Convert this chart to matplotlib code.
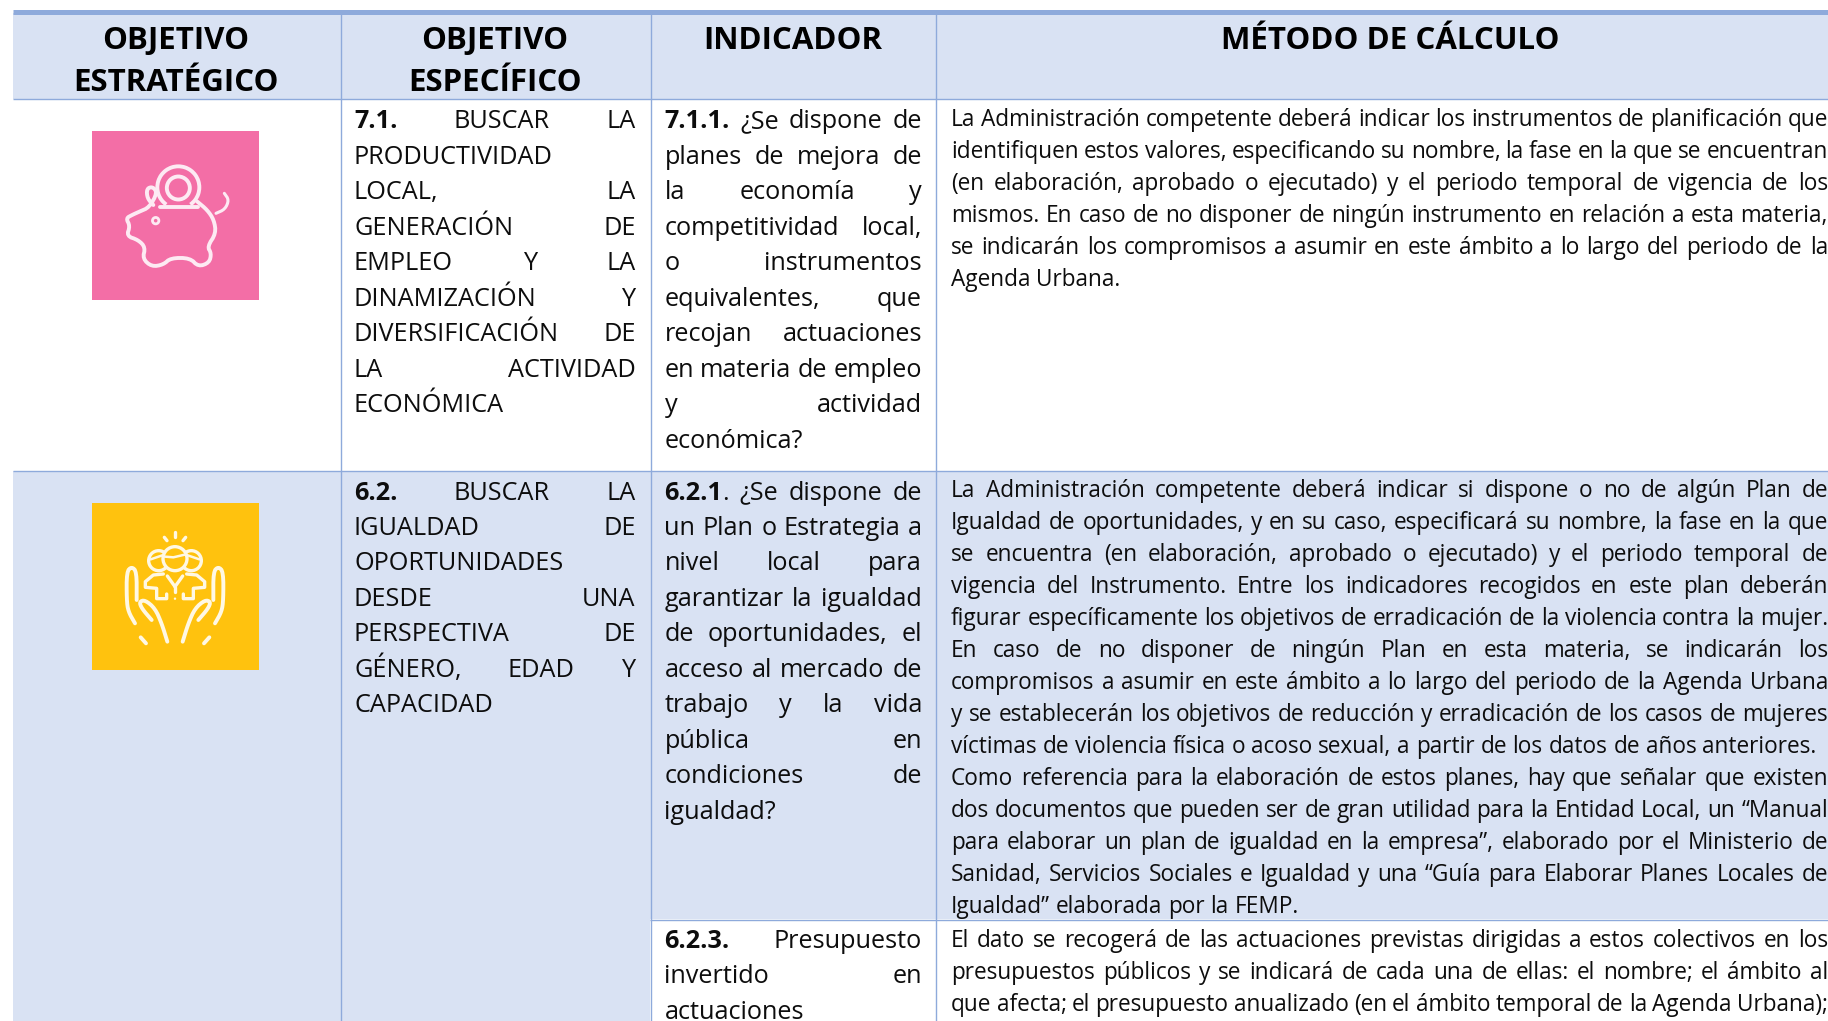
import matplotlib
matplotlib.use('Agg')
import matplotlib.pyplot as plt
from matplotlib.patches import Rectangle, Circle, Arc
import numpy as np

FONT = 'Open Sans'
SIZE_MID = 18.2
SIZE_WIDE = 16.3
SIZE_HEAD = 22.5

head_lines = [
    (176, ["OBJETIVO", "ESTRATÉGICO"]),
    (495, ["OBJETIVO", "ESPECÍFICO"]),
    (793, ["INDICADOR"]),
    (1390, ["MÉTODO DE CÁLCULO"]),
]

obj_71 = ["*7.1. BUSCAR LA", "PRODUCTIVIDAD", "LOCAL, LA", "GENERACIÓN DE", "EMPLEO Y LA",
          "DINAMIZACIÓN Y", "DIVERSIFICACIÓN DE", "LA ACTIVIDAD", "ECONÓMICA"]
obj_62 = ["*6.2. BUSCAR LA", "IGUALDAD DE", "OPORTUNIDADES", "DESDE UNA", "PERSPECTIVA DE",
          "GÉNERO, EDAD Y", "CAPACIDAD"]
obj_71_just = [1, 0, 1, 1, 1, 1, 1, 1, 0]
obj_62_just = [1, 1, 0, 1, 1, 1, 0]

ind_711 = ["*7.1.1. ¿Se dispone de", "planes de mejora de", "la economía y", "competitividad local,",
           "o instrumentos", "equivalentes, que", "recojan actuaciones", "en materia de empleo",
           "y actividad", "económica?"]
ind_621 = ["*6.2.1|. ¿Se dispone de", "un Plan o Estrategia a", "nivel local para",
           "garantizar la igualdad", "de oportunidades, el", "acceso al mercado de",
           "trabajo y la vida", "pública en", "condiciones de", "igualdad?"]
ind_623 = ["*6.2.3. Presupuesto", "invertido en", "actuaciones"]

met_711 = ["La Administración competente deberá indicar los instrumentos de planificación que",
           "identifiquen estos valores, especificando su nombre, la fase en la que se encuentran",
           "(en elaboración, aprobado o ejecutado) y el periodo temporal de vigencia de los",
           "mismos. En caso de no disponer de ningún instrumento en relación a esta materia,",
           "se indicarán los compromisos a asumir en este ámbito a lo largo del periodo de la",
           "Agenda Urbana."]
met_621 = ["La Administración competente deberá indicar si dispone o no de algún Plan de",
           "Igualdad de oportunidades, y en su caso, especificará su nombre, la fase en la que",
           "se encuentra (en elaboración, aprobado o ejecutado) y el periodo temporal de",
           "vigencia del Instrumento. Entre los indicadores recogidos en este plan deberán",
           "figurar específicamente los objetivos de erradicación de la violencia contra la mujer.",
           "En caso de no disponer de ningún Plan en esta materia, se indicarán los",
           "compromisos a asumir en este ámbito a lo largo del periodo de la Agenda Urbana",
           "y se establecerán los objetivos de reducción y erradicación de los casos de mujeres",
           "víctimas de violencia física o acoso sexual, a partir de los datos de años anteriores.",
           "Como referencia para la elaboración de estos planes, hay que señalar que existen",
           "dos documentos que pueden ser de gran utilidad para la Entidad Local, un “Manual",
           "para elaborar un plan de igualdad en la empresa”, elaborado por el Ministerio de",
           "Sanidad, Servicios Sociales e Igualdad y una “Guía para Elaborar Planes Locales de",
           "Igualdad” elaborada por la FEMP."]
met_621_just = [1, 1, 1, 1, 1, 1, 1, 1, 0, 1, 1, 1, 1, 0]
met_623 = ["El dato se recogerá de las actuaciones previstas dirigidas a estos colectivos en los",
           "presupuestos públicos y se indicará de cada una de ellas: el nombre; el ámbito al",
           "que afecta; el presupuesto anualizado (en el ámbito temporal de la Agenda Urbana);"]


fig = plt.figure(figsize=(18.28, 10.21), dpi=100)
ax = fig.add_axes([0, 0, 1, 1])
ax.set_xlim(0, 1828)
ax.set_ylim(1021, 0)
ax.axis('off')
rend = fig.canvas.get_renderer()

BLUE = '#d9e2f3'
LINE = '#8eaadb'
INK = '#0d0d0d'


def put(x, y, s, size, bold=False):
    t = ax.text(x, y, s, fontsize=size, family=FONT, fontweight='bold' if bold else 'normal',
                color=INK, va='baseline', ha='left')
    return t, t.get_window_extent(rend).width


# every word is made of parts, a part starting with * is bold
def word_width(word, size):
    w = 0
    for part in word.split('|'):
        t, tw = put(0, 0, part.lstrip('*'), size, part.startswith('*'))
        t.remove()
        w += tw
    return w


def draw_line(line, x0, x1, y, size, justify):
    words = line.split(' ')
    widths = [word_width(w, size) for w in words]
    t, space = put(0, 0, 'n n', size)
    t.remove()
    t, nn = put(0, 0, 'nn', size)
    t.remove()
    space = space - nn
    if justify and len(words) > 1:
        space = (x1 - x0 - sum(widths)) / (len(words) - 1)
    x = x0
    for w, width in zip(words, widths):
        px = x
        for part in w.split('|'):
            t, tw = put(px, y, part.lstrip('*'), size, part.startswith('*'))
            px += tw
        x += width + space


def draw_block(lines, x0, x1, y0, step, size, just=None, last_free=True):
    for i, line in enumerate(lines):
        if just is not None:
            j = just[i]
        else:
            j = not (last_free and i == len(lines) - 1)
        draw_line(line, x0, x1, y0 + i * step, size, j)


# fills
ax.add_patch(Rectangle((13, 13), 1815, 86, fc=BLUE, ec='none'))
ax.add_patch(Rectangle((13, 471), 637, 550, fc=BLUE, ec='none'))
ax.add_patch(Rectangle((650, 471), 286, 448, fc=BLUE, ec='none'))
ax.add_patch(Rectangle((936, 471), 892, 448, fc=BLUE, ec='none'))

# rules
ax.plot([13, 1828], [12, 12], color=LINE, lw=3.6, solid_capstyle='butt')
for y, x0, x1 in [(99.5, 13, 1828), (471, 13, 1828), (919.5, 650, 1828)]:
    ax.plot([x0, x1], [y, y], color=LINE, lw=1.0, solid_capstyle='butt')
for x, y0, y1 in [(340.5, 13, 1021), (650.5, 13, 1021), (936, 13, 1021)]:
    ax.plot([x, x], [y0, y1], color=LINE, lw=1.0, solid_capstyle='butt')

# header
for cx, lines in head_lines:
    for i, s in enumerate(lines):
        ax.text(cx, 49 + i * 42, s, fontsize=SIZE_HEAD, family=FONT, fontweight='bold',
                color='black', ha='center', va='baseline')

# columns
draw_block(obj_71, 354, 635.5, 128.5, 35.45, SIZE_MID, obj_71_just)
draw_block(obj_62, 354, 635.5, 499.5, 35.45, SIZE_MID, obj_62_just)
draw_block(ind_711, 664.5, 922, 128.5, 35.45, SIZE_MID)
draw_block(ind_621, 664.5, 922, 499.5, 35.45, SIZE_MID)
draw_block(ind_623, 664.5, 922, 948, 35.45, SIZE_MID, [1, 1, 0])
draw_block(met_711, 951, 1828, 126, 32, SIZE_WIDE)
draw_block(met_621, 951, 1828, 497, 32, SIZE_WIDE, met_621_just)
draw_block(met_623, 951, 1828, 947, 32, SIZE_WIDE, last_free=False)


# icons are sketched in their own crop units, 3 units to a pixel
def chaikin(pts, n=2):
    pts = np.array(pts, float)
    for _ in range(n):
        a = pts[:-1] * 0.75 + pts[1:] * 0.25
        b = pts[:-1] * 0.25 + pts[1:] * 0.75
        mid = np.empty((len(a) * 2, 2))
        mid[0::2] = a
        mid[1::2] = b
        pts = np.vstack([pts[0], mid, pts[-1]])
    return pts


def icon_line(pts, ox, oy, col, lw=2.6, smooth=True, mirror=False):
    p = chaikin(pts) if smooth else np.array(pts, float)
    xs = (390 - p[:, 0]) if mirror else p[:, 0]
    ax.plot(ox + xs / 3, oy + p[:, 1] / 3, color=col, lw=lw, solid_capstyle='round', solid_joinstyle='round')


# pink piggy bank
PW = '#fdeaf3'
ax.add_patch(Rectangle((92, 131), 167, 169, fc='#f36ea6', ec='none'))
pig_x, pig_y = 110, 150
pig_outline = [(130, 165), (112, 145), (110, 116), (128, 110), (142, 128), (118, 172), (88, 185), (66, 195), (48, 205),
               (60, 228), (50, 258), (85, 270), (106, 292), (98, 326), (125, 350), (160, 344), (182, 324),
               (240, 324), (265, 350), (298, 338), (304, 310), (292, 290), (318, 250), (312, 210), (292, 180), (262, 155)]
icon_line(pig_outline, pig_x, pig_y, PW, lw=2.8)
icon_line([(318, 190), (345, 178), (357, 150), (343, 130)], pig_x, pig_y, PW, lw=2.2)
icon_line([(150, 170), (265, 170)], pig_x, pig_y, PW, lw=2.8, smooth=False)
ax.add_patch(Arc((pig_x + 205 / 3, pig_y + 112 / 3), 42, 42, theta1=125, theta2=415, ec=PW, lw=2.8))
ax.add_patch(Circle((pig_x + 205 / 3, pig_y + 114 / 3), 11.5, fc='none', ec=PW, lw=2.8))
ax.add_patch(Circle((pig_x + 137 / 3, pig_y + 212 / 3), 3.2, fc='none', ec=PW, lw=2))

# yellow hands with three people
YW = '#fff8e4'
YEL = '#ffc20e'
ax.add_patch(Rectangle((92, 503), 167, 167, fc=YEL, ec='none'))
hx, hy = 110, 520
for m in (False, True):
    icon_line([(75, 310), (55, 275), (50, 240), (50, 155), (65, 140), (80, 155), (80, 240)], hx, hy, YW, lw=2.8, mirror=m)
    icon_line([(125, 300), (95, 265), (88, 245), (105, 240), (135, 265), (155, 310), (172, 365)], hx, hy, YW, lw=2.8, mirror=m)
    icon_line([(92, 352), (108, 370)], hx, hy, YW, lw=2.8, smooth=False, mirror=m)
    icon_line([(160, 162), (130, 165), (106, 185), (106, 202), (140, 205), (140, 236), (170, 236), (170, 222)],
              hx, hy, YW, lw=2.4, smooth=False, mirror=m)
    icon_line([(172, 168), (195, 200)], hx, hy, YW, lw=2.4, smooth=False, mirror=m)
    icon_line([(163, 52), (171, 62)], hx, hy, YW, lw=2.4, smooth=False, mirror=m)
    side = 244 if m else 146
    ax.add_patch(Circle((hx + side / 3, hy + 122 / 3), 10, fc='none', ec=YW, lw=2.4))
    icon_line([(122, 118), (160, 105)], hx, hy, YW, lw=1.8, smooth=False, mirror=m)
icon_line([(195, 35), (195, 52)], hx, hy, YW, lw=2.4, smooth=False)
icon_line([(195, 200), (195, 215)], hx, hy, YW, lw=2.4, smooth=False)
ax.add_patch(Circle((hx + 195 / 3, hy + 116 / 3), 12, fc=YEL, ec=YW, lw=2.4, zorder=3))
ax.plot([hx + 166 / 3, hx + 190 / 3, hx + 224 / 3], [hy + 110 / 3, hy + 112 / 3, hy + 104 / 3], color=YW, lw=1.8, zorder=4)
ax.add_patch(Circle((hx + 195 / 3, hy + 236 / 3), 1.2, fc=YW, ec='none'))

fig.savefig('out.png', dpi=100)
